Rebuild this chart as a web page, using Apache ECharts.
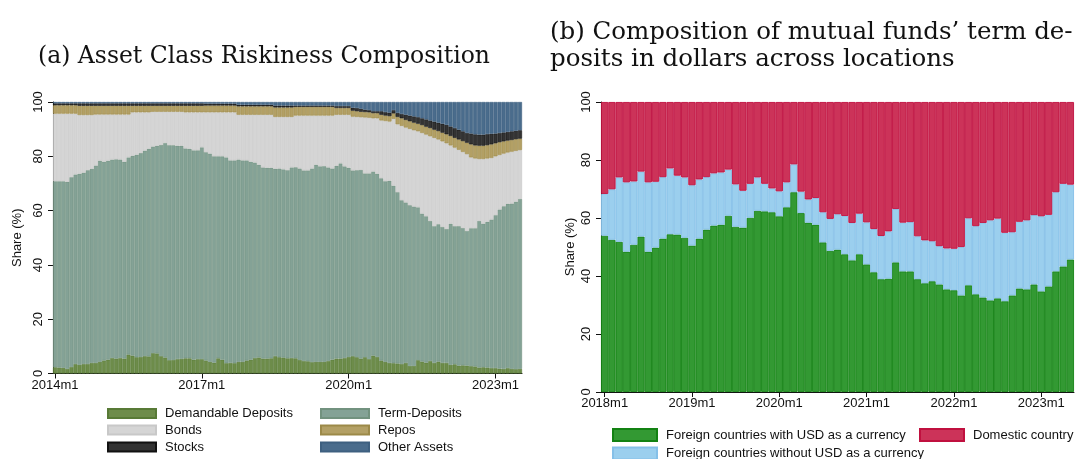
<!DOCTYPE html>
<html>
<head>
<meta charset="utf-8">
<script src="https://cdn.jsdelivr.net/npm/echarts@6/dist/echarts.min.js"></script>
<style>
  html, body { margin: 0; padding: 0; background: #fff; }
  #chart { width: 1086px; height: 459px; }
</style>
</head>
<body>
<div id="chart"></div>
<script>
// ---------- Panel (a): asset class shares, monthly 2014m1 - 2023m7 (%) ----------
const assetStart = [2014, 1];
const assetTickLabels = ['2014m1', '2017m1', '2020m1', '2023m1'];

const demandableDeposits = [
  2.3,2.2,2.1,1.7,2.4,3.5,3.2,3.5,3.5,3.9,
  3.9,4.3,4.8,5.1,5.7,5.5,5.7,5.5,7.0,6.6,
  6.0,6.1,6.4,6.3,7.5,7.4,6.4,5.9,4.9,5.0,
  5.3,5.4,5.6,5.6,5.1,5.3,5.3,4.8,4.3,4.0,
  5.6,5.1,3.8,3.9,3.8,4.3,4.3,4.8,5.1,5.7,
  5.9,5.5,5.5,5.6,6.4,6.0,5.9,5.6,5.7,5.6,
  5.0,4.6,4.5,4.2,4.3,4.3,4.3,4.6,5.1,5.5,
  5.5,5.7,6.1,6.4,6.0,5.5,6.0,5.3,6.6,6.1,
  4.8,4.3,3.9,3.8,3.7,3.5,3.9,2.8,2.8,4.9,
  4.4,4.0,4.6,3.9,4.4,3.9,3.9,3.2,3.4,2.9,
  3.0,2.9,2.7,2.6,2.2,2.3,2.2,2.0,2.0,1.8,
  1.7,2.0,1.7,1.6,1.7
];
const termDeposits = [
  68.5,68.6,68.7,68.9,69.9,69.8,70.4,70.5,71.4,71.5,
  72.7,74.1,73.2,73.3,73.1,73.4,73.1,72.5,72.6,73.6,
  74.6,75.1,75.7,76.5,76.1,76.5,77.8,79.0,79.2,79.1,
  78.6,78.5,77.3,77.2,77.1,76.9,78.0,76.7,76.7,76.0,
  74.4,74.9,75.8,74.6,74.7,74.5,74.2,73.7,72.9,72.0,
  71.0,70.4,70.3,70.2,69.0,69.5,69.3,69.3,70.2,70.4,
  70.5,70.2,70.3,71.3,72.6,72.0,72.1,71.3,70.4,71.0,
  71.9,70.6,69.7,68.4,68.9,69.5,67.7,68.4,67.8,67.5,
  67.1,66.5,67.1,65.4,63.1,60.3,59.1,59.2,58.7,56.3,
  54.5,53.9,51.6,50.4,50.6,50.1,49.3,52.0,50.9,51.4,
  50.6,49.6,50.8,50.9,54.0,52.9,53.7,54.7,56.3,58.6,
  59.9,60.5,60.9,61.7,62.6
];
const bonds = [
  24.9,24.9,24.9,25.1,23.4,22.4,21.6,21.2,20.3,19.8,
  18.8,17.0,17.4,17.0,16.6,16.5,16.6,17.4,15.8,16.0,
  15.6,15.0,14.1,13.4,12.8,12.5,12.2,11.5,12.3,12.3,
  12.5,12.5,13.3,13.4,14.0,14.0,12.9,14.7,15.2,16.2,
  16.2,16.2,16.6,17.7,17.7,16.5,16.8,16.8,17.3,17.6,
  18.4,19.4,19.5,19.5,19.1,19.0,19.3,19.6,18.6,19.0,
  19.5,20.2,20.2,19.5,18.1,18.7,18.6,19.1,19.5,18.8,
  17.9,19.0,19.5,19.8,19.6,19.4,20.6,20.5,19.6,20.4,
  21.3,22.2,21.8,24.6,25.0,27.4,27.6,28.1,28.1,28.0,
  29.7,30.1,31.2,32.5,31.2,31.5,31.6,28.8,28.9,28.1,
  28.0,28.3,26.1,25.7,22.8,23.8,23.3,22.7,21.7,20.1,
  19.4,18.9,19.1,18.7,18.0
];
const repos = [
  3.1,3.1,3.1,3.1,3.1,3.1,3.4,3.4,3.4,3.4,
  3.2,3.2,3.2,3.2,3.2,3.2,3.2,3.2,3.2,2.4,
  2.4,2.4,2.4,2.4,2.2,2.2,2.2,2.2,2.2,2.2,
  2.2,2.2,2.4,2.4,2.4,2.4,2.4,2.5,2.5,2.5,
  2.5,2.5,2.5,2.5,2.5,3.1,3.1,3.1,3.1,3.1,
  3.1,3.1,3.1,3.1,3.5,3.5,3.5,3.5,3.5,3.2,
  3.2,3.2,3.2,3.2,3.2,3.2,3.2,3.2,3.2,2.5,
  2.5,2.5,2.5,2.2,2.1,2.0,2.0,2.0,1.9,1.9,
  2.1,2.0,2.0,2.0,2.7,2.8,2.8,2.8,2.8,2.8,
  2.9,2.9,3.0,3.0,3.1,3.2,3.3,3.5,3.6,3.8,
  4.0,4.2,4.8,4.8,4.9,4.9,4.9,5.0,4.8,4.7,
  4.5,4.4,4.3,4.3,4.2
];
const stocks = [
  0.7,0.7,0.7,0.7,0.7,0.7,0.9,0.9,0.9,0.9,
  0.9,0.9,0.9,0.9,0.9,0.9,0.9,0.9,0.9,0.9,
  0.9,0.9,0.9,0.9,0.9,0.9,0.9,0.9,0.9,0.9,
  0.9,0.9,0.9,0.9,0.9,0.9,0.9,0.7,0.7,0.7,
  0.7,0.7,0.7,0.7,0.7,0.6,0.6,0.6,0.6,0.6,
  0.6,0.6,0.6,0.6,0.7,0.7,0.7,0.7,0.7,0.5,
  0.5,0.5,0.5,0.5,0.5,0.5,0.5,0.5,0.5,0.7,
  0.7,0.7,0.7,1.1,1.2,1.1,0.9,0.8,0.7,0.7,
  1.3,1.3,1.3,1.2,1.5,1.6,1.9,2.1,2.3,2.4,
  2.5,2.7,2.8,3.0,3.1,3.3,3.5,3.5,3.6,3.6,
  3.6,3.6,4.0,4.1,4.1,4.1,4.1,3.9,3.6,3.4,
  3.3,3.2,3.2,3.1,3.1
];
const otherAssets = [
  0.5,0.5,0.5,0.5,0.5,0.5,0.5,0.5,0.5,0.5,
  0.5,0.5,0.5,0.5,0.5,0.5,0.5,0.5,0.5,0.5,
  0.5,0.5,0.5,0.5,0.5,0.5,0.5,0.5,0.5,0.5,
  0.5,0.5,0.5,0.5,0.5,0.5,0.5,0.6,0.6,0.6,
  0.6,0.6,0.6,0.6,0.6,1.0,1.0,1.0,1.0,1.0,
  1.0,1.0,1.0,1.0,1.3,1.3,1.3,1.3,1.3,1.3,
  1.3,1.3,1.3,1.3,1.3,1.3,1.3,1.3,1.3,1.5,
  1.5,1.5,1.5,2.1,2.2,2.5,2.8,3.0,3.4,3.4,
  3.4,3.7,3.9,3.0,4.0,4.4,4.7,5.0,5.3,5.6,
  6.0,6.4,6.8,7.2,7.6,8.0,8.4,9.0,9.6,10.2,
  10.8,11.4,11.6,11.9,12.0,12.0,11.8,11.7,11.6,11.4,
  11.2,11.0,10.8,10.6,10.4
];

// ---------- Panel (b): term deposits in dollars by location, 2018m1 - 2023m5 (%) ----------
const locationStart = [2018, 1];
const locationTickLabels = ['2018m1', '2019m1', '2020m1', '2021m1', '2022m1', '2023m1'];

const foreignWithUSD = [
  53.9,52.5,51.8,48.4,50.8,53.6,48.4,49.8,52.9,54.4,
  54.3,53.2,50.5,52.9,56.0,57.4,57.7,60.8,57.0,56.7,
  60.1,62.5,62.3,62.0,60.6,63.7,68.9,61.7,58.4,57.7,
  51.6,48.7,49.1,47.5,45.4,47.5,44.0,41.3,38.9,39.1,
  44.7,41.6,41.6,38.9,37.5,38.2,37.1,35.4,35.1,33.3,
  36.8,33.7,32.6,31.6,32.3,31.3,33.3,35.7,35.4,37.1,
  34.7,36.4,41.6,43.3,45.7
];
const foreignWithoutUSD = [
  14.4,17.4,22.2,23.9,21.8,22.4,23.9,22.7,21.2,22.7,
  20.3,20.8,20.8,20.4,18.1,18.0,18.0,15.9,14.6,12.7,
  11.7,11.5,9.5,8.2,8.6,8.6,9.6,7.4,8.0,9.2,
  10.4,11.0,12.2,13.2,12.9,14.0,14.5,14.9,14.9,16.3,
  18.4,16.8,17.0,14.8,14.8,13.8,13.2,14.1,14.3,16.7,
  23.1,23.5,25.7,27.6,27.5,23.6,21.8,23.0,23.8,23.9,
  25.9,24.7,27.3,28.5,25.8
];
const domesticCountry = [
  31.7,30.1,26.0,27.7,27.4,24.0,27.7,27.5,25.9,22.9,
  25.4,26.0,28.7,26.7,25.9,24.6,24.3,23.3,28.4,30.6,
  28.2,26.0,28.2,29.8,30.8,27.7,21.5,30.9,33.6,33.1,
  38.0,40.3,38.7,39.3,41.7,38.5,41.5,43.8,46.2,44.6,
  36.9,41.6,41.4,46.3,47.7,48.0,49.7,50.5,50.6,50.0,
  40.1,42.8,41.7,40.8,40.2,45.1,44.9,41.3,40.8,39.0,
  39.4,38.9,31.1,28.2,28.5
];

// Month labels in Stata style, e.g. "2014m1"
function monthLabels(start, count) {
  const out = [];
  let y = start[0], m = start[1];
  for (let i = 0; i < count; i++) {
    out.push(y + 'm' + m);
    m += 1;
    if (m > 12) { m = 1; y += 1; }
  }
  return out;
}
const assetMonths = monthLabels(assetStart, demandableDeposits.length);
const locationMonths = monthLabels(locationStart, foreignWithUSD.length);

const SANS = '"Liberation Sans", Arial, sans-serif';
const SERIF = '"DejaVu Serif", serif';
const INK = '#111';

function catAxis(gridIndex, data, ticks) {
  const show = (i, v) => ticks.indexOf(v) !== -1;
  return {
    type: 'category', gridIndex, data,
    boundaryGap: true,
    axisLine: { show: true, lineStyle: { color: INK, width: 1 } },
    axisTick: { show: true, alignWithLabel: true, interval: show, length: 5, lineStyle: { color: INK } },
    axisLabel: { interval: show, color: INK, fontFamily: SANS, fontSize: 13, margin: 5 },
    splitLine: { show: false }
  };
}
function shareAxis(gridIndex, nameGap, labelMargin) {
  return {
    type: 'value', gridIndex, min: 0, max: 100, interval: 20,
    name: 'Share (%)', nameLocation: 'middle', nameRotate: 90, nameGap,
    nameTextStyle: { color: INK, fontFamily: SANS, fontSize: 13 },
    axisLine: { show: true, lineStyle: { color: INK, width: 1 } },
    axisTick: { show: true, length: 5, lineStyle: { color: INK } },
    axisLabel: { rotate: 90, color: INK, fontFamily: SANS, fontSize: 13, margin: labelMargin },
    splitLine: { show: false }
  };
}
function stackBar(name, data, xi, stack, fill, edge, bw) {
  return {
    name, type: 'bar', data, xAxisIndex: xi, yAxisIndex: xi, stack,
    barCategoryGap: '0%', barGap: '0%',
    itemStyle: { color: fill, borderColor: edge, borderWidth: bw },
    emphasis: { disabled: true }
  };
}
// One legend entry per component so that entries line up in fixed columns
function legendEntry(name, left, centerY, w, h) {
  return {
    left, top: centerY - 7, padding: 0, orient: 'horizontal', data: [name], selectedMode: false,
    icon: 'rect', itemWidth: w, itemHeight: h,
    textStyle: { color: INK, fontFamily: SANS, fontSize: 13, lineHeight: 14, padding: [0, 0, 0, 4] }
  };
}

const chart = echarts.init(document.getElementById('chart'), null, { renderer: 'canvas' });
chart.setOption({
  animation: false,
  backgroundColor: '#ffffff',
  graphic: [
    { type: 'text', x: 264, y: 57, style: { text: '(a) Asset Class Riskiness Composition', font: '23.5px ' + SERIF, fill: INK, textAlign: 'center', textVerticalAlign: 'middle' } },
    { type: 'text', x: 550, y: 33, style: { text: '(b) Composition of mutual funds\u2019 term de-', font: '24.5px ' + SERIF, fill: INK, textAlign: 'left', textVerticalAlign: 'middle' } },
    { type: 'text', x: 550, y: 60, style: { text: 'posits in dollars across locations', font: '24.5px ' + SERIF, fill: INK, textAlign: 'left', textVerticalAlign: 'middle' } }
  ],
  grid: [
    { left: 53, top: 102, width: 469, height: 271.5 },
    { left: 601, top: 102, width: 473, height: 290 }
  ],
  xAxis: [catAxis(0, assetMonths, assetTickLabels), catAxis(1, locationMonths, locationTickLabels)],
  yAxis: [shareAxis(0, 29, 8), shareAxis(1, 24, 8)],
  legend: [
    legendEntry('Demandable Deposits', 107, 413.5, 48, 9),
    legendEntry('Bonds', 107, 430, 48, 9),
    legendEntry('Stocks', 107, 447, 48, 9),
    legendEntry('Term-Deposits', 320, 413.5, 48, 9),
    legendEntry('Repos', 320, 430, 48, 9),
    legendEntry('Other Assets', 320, 447, 48, 9),
    legendEntry('Foreign countries with USD as a currency', 612, 435, 44, 12),
    legendEntry('Foreign countries without USD as a currency', 612, 453.5, 44, 12),
    legendEntry('Domestic country', 919, 435, 44, 12)
  ],
  series: [
    stackBar('Demandable Deposits', demandableDeposits, 0, 'assets', '#6d8c4a', '#587a36', 0.6),
    stackBar('Term-Deposits', termDeposits, 0, 'assets', '#84a296', '#72927f', 0.6),
    stackBar('Bonds', bonds, 0, 'assets', '#d5d5d5', '#c8c8c8', 0.6),
    stackBar('Repos', repos, 0, 'assets', '#b3a065', '#9c8948', 0.6),
    stackBar('Stocks', stocks, 0, 'assets', '#333333', '#111111', 0.6),
    stackBar('Other Assets', otherAssets, 0, 'assets', '#4a6c8c', '#3e6080', 0.6),
    stackBar('Foreign countries with USD as a currency', foreignWithUSD, 1, 'loc', '#339933', '#138213', 0.9),
    stackBar('Foreign countries without USD as a currency', foreignWithoutUSD, 1, 'loc', '#9bcfee', '#85c0e8', 0.9),
    stackBar('Domestic country', domesticCountry, 1, 'loc', '#cc3359', '#c0103f', 0.9)
  ]
});
</script>
</body>
</html>
